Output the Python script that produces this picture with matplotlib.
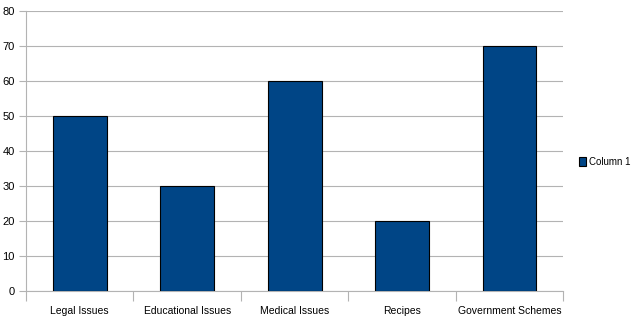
import numpy as np
import matplotlib
matplotlib.use('Agg')
from matplotlib import pyplot as plt
from matplotlib import font_manager

categories = ['Legal Issues', 'Educational Issues', 'Medical Issues', 'Recipes', 'Government Schemes']
values = [50, 30, 60, 20, 70]
series_name = 'Column 1'
yticks = [0, 10, 20, 30, 40, 50, 60, 70, 80]

names = {f.name for f in font_manager.fontManager.ttflist}
family = 'Liberation Sans Narrow' if 'Liberation Sans Narrow' in names else 'Liberation Sans'
plt.rcParams['font.family'] = [family, 'DejaVu Sans']
fs = 8.5 if family == 'Liberation Sans Narrow' else 7.5


def main():
    fig = plt.figure(figsize=(6.35, 3.22), dpi=100)
    ax = fig.add_axes([0.041, 0.096, 0.846, 0.870])
    x = np.arange(len(categories))
    ax.bar(x, values, width=0.5, color='#004586', edgecolor='black', linewidth=0.8,
           label=series_name, zorder=3)

    ax.set_xlim(-0.5, len(categories) - 0.5)
    ax.set_ylim(0, 80)
    ax.set_yticks(yticks)
    ax.set_yticklabels([str(t) for t in yticks], fontsize=fs + 0.5)
    ax.yaxis.grid(True, color='#b3b3b3', linewidth=0.8, zorder=0)

    ax.set_xticks(x)
    ax.set_xticklabels(categories, fontsize=fs)
    ax.set_xticks(np.arange(len(categories) + 1) - 0.5, minor=True)
    ax.tick_params(axis='x', which='major', length=0, pad=11)
    ax.tick_params(axis='x', which='minor', length=7, color='#b3b3b3', width=0.8)
    ax.tick_params(axis='y', length=5, color='#b3b3b3', width=0.8, pad=3)

    for side in ['top', 'right']:
        ax.spines[side].set_visible(False)
    for side in ['left', 'bottom']:
        ax.spines[side].set_color('#b3b3b3')
        ax.spines[side].set_linewidth(0.8)

    handles, labels = ax.get_legend_handles_labels()
    fig.legend(handles, labels, loc='center left', bbox_to_anchor=(0.912, 0.497),
               frameon=False, fontsize=fs - 0.5, handlelength=0.75, handleheight=1.0,
               handletextpad=0.3, borderpad=0, borderaxespad=0)

    plt.savefig('out.png', dpi=100)


if __name__ == '__main__':
    main()
